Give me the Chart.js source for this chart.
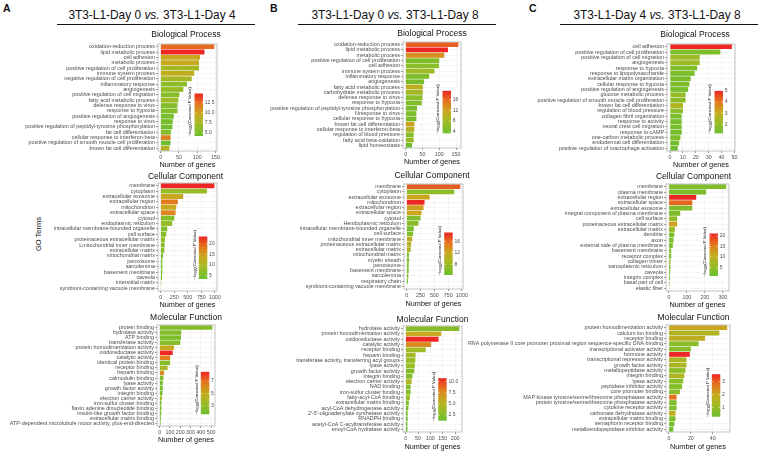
<!DOCTYPE html>
<html><head><meta charset="utf-8">
<script src="https://cdn.jsdelivr.net/npm/chart.js@4"></script>
<style>
body{margin:0;width:758px;height:453px;background:#fff;position:relative;overflow:hidden;font-family:'Liberation Sans',Arial,sans-serif;color:#111;}
canvas{position:absolute;}
.t{position:absolute;white-space:nowrap;}
.ul{position:absolute;height:1.4px;background:#111;top:24px;}
</style></head><body>
<div class="t" style="left:3px;top:2px;font-weight:bold;font-size:10.5px;line-height:12px">A</div>
<div class="t" style="left:270px;top:2px;font-weight:bold;font-size:10.5px;line-height:12px">B</div>
<div class="t" style="left:529px;top:2px;font-weight:bold;font-size:10.5px;line-height:12px">C</div>
<div class="t" style="left:52px;top:7px;width:200px;text-align:center;font-size:11.9px;line-height:16px">3T3-L1-Day 0 <i>vs.</i> 3T3-L1-Day 4</div>
<div class="t" style="left:295px;top:7px;width:200px;text-align:center;font-size:11.9px;line-height:16px">3T3-L1-Day 0 <i>vs.</i> 3T3-L1-Day 8</div>
<div class="t" style="left:557px;top:7px;width:200px;text-align:center;font-size:11.9px;line-height:16px">3T3-L1-Day 4 <i>vs.</i> 3T3-L1-Day 8</div>
<div class="ul" style="left:57px;width:198px"></div>
<div class="ul" style="left:298px;width:198px"></div>
<div class="ul" style="left:560px;width:198px"></div>
<div class="t" style="left:9px;top:229px;width:60px;text-align:center;font-size:7.5px;line-height:10px;transform:rotate(-90deg)">GO Terms</div>
<script>
// ---------------- DATA ----------------
// Panel A: Day 0 vs Day 4
const aBP_terms = ['oxidation-reduction process','lipid metabolic process','cell adhesion','metabolic process','positive regulation of cell proliferation','immune system process','negative regulation of cell proliferation','inflammatory response','angiogenesis','positive regulation of cell migration','fatty acid metabolic process','defense response to virus','response to hypoxia','positive regulation of angiogenesis','response to virus','positive regulation of peptidyl-tyrosine phosphorylation','fat cell differentiation','cellular response to interferon-beta','positive regulation of smooth muscle cell proliferation','brown fat cell differentiation'];
const aBP_genes = [147,120,108,105,105,92,85,72,62,51,48,46,46,36,33,32,28,27,27,24];
const aBP_logp  = [12.5,14.7,9.5,9.5,7.5,9,7.5,6,6.5,5.5,7,5.5,5.5,5,4.8,4.5,5.5,11.5,4.2,8.5];
const aBP_xticks = [0,50,100,150];
const aBP_cbticks = ['5.0','7.5','10.0','12.5'];

const aCC_terms = ['membrane','cytoplasm','extracellular exosome','extracellular region','mitochondrion','extracellular space','cytosol','endoplasmic reticulum','intracellular membrane-bounded organelle','cell surface','proteinaceous extracellular matrix','Lmitochondrial inner membrane','extracellular matrix','mitochondrial matrix','peroxisome','sarcolemma','basement membrane','caveola','interstitial matrix','symbiont-containing vacuole membrane'];
const aCC_genes = [990,855,415,317,287,275,250,213,122,104,80,73,67,43,30,30,30,25,12,6];
const aCC_logp  = [23.4,8,14,18,13.5,17,6,7.5,5.5,6,7,6,6.5,4.5,4.5,4,4.5,4,3.8,3.4];
const aCC_xticks = [0,250,500,750,1000];
const aCC_cbticks = ['5','10','15','20'];

const aMF_terms = ['protein binding','hydrolase activity','ATP binding','transferase activity','protein homodimerization activity','oxidoreductase activity','catalytic activity','identical protein binding','receptor binding','heparin binding','calmodulin binding','lyase activity','growth factor activity','integrin binding','electron carrier activity','iron-sulfur cluster binding','flavin adenine dinucleotide binding','insulin-like growth factor binding','extracellular matrix binding','ATP-dependent microtubule motor activity, plus-end-directed'];
const aMF_genes = [512,210,207,200,139,127,102,102,77,43,37,31,31,28,22,18,18,15,12,9];
const aMF_logp  = [2.5,2.5,2.3,2.5,5,8.5,6.5,2.5,3.8,6,2.2,2,2.2,2.2,3.5,2,2.5,1.9,1.8,1.64];
const aMF_xticks = [0,100,200,300,400,500];
const aMF_cbticks = ['3','5','7'];

// Panel B: Day 0 vs Day 8
const bBP_terms = ['oxidation-reduction process','lipid metabolic process','metabolic process','positive regulation of cell proliferation','cell adhesion','immune system process','inflammatory response','angiogenesis','fatty acid metabolic process','carbohydrate metabolic process','defense response to virus','response to hypoxia','positive regulation of peptidyl-tyrosine phosphorylation','Nresponse to virus','cellular response to hypoxia','brown fat cell differentiation','cellular response to interferon-beta','regulation of blood pressure','fatty acid beta-oxidation','lipid homeostasis'];
const bBP_genes = [157,126,115,100,99,86,70,55,51,51,50,48,34,32,32,26,26,24,24,19];
const bBP_logp  = [16.5,19.3,13.5,5,6,7.5,5,4.5,10.5,8,6,5,4.5,5,4.5,12,9.5,5.5,7,3.4];
const bBP_xticks = [0,50,100,150];
const bBP_cbticks = ['4','8','12','16'];

const bCC_terms = ['membrane','cytoplasm','extracellular exosome','mitochondrion','extracellular region','extracellular space','cytosol','Hendoplasmic reticulum','intracellular membrane-bounded organelle','cell surface','mitochondrial inner membrane','proteinaceous extracellular matrix','extracellular matrix','mitochondrial matrix','myelin sheath','peroxisome','basement membrane','sarcolemma','respiratory chain','symbiont-containing vacuole membrane'];
const bCC_genes = [970,860,415,323,305,268,250,213,128,116,98,79,73,43,43,37,37,30,24,6];
const bCC_logp  = [16.5,7,12,19,12.5,12,6,6.5,5.5,6,11,10,10,5.5,5.5,5,5.5,5,5,4.3];
const bCC_xticks = [0,250,500,750,1000];
const bCC_cbticks = ['8','12','16'];

const bMF_terms = ['hydrolase activity','protein homodimerization activity','oxidoreductase activity','catalytic activity','receptor binding','heparin binding','transferase activity, transferring acyl groups','lyase activity','growth factor activity','integrin binding','electron carrier activity','NAD binding','iron-sulfur cluster binding','fatty-acyl-CoA binding','extracellular matrix binding','acyl-CoA dehydrogenase activity',"2'-5'-oligoadenylate synthetase activity",'RNADPH binding','acetyl-CoA C-acyltransferase activity','enoyl-CoA hydratase activity'];
const bMF_genes = [217,144,133,103,81,40,39,37,35,27,24,20,20,17,13,11,8,8,7,7];
const bMF_logp  = [2.5,6,10.75,7.5,4,4,3.5,3.5,2.5,2.5,4.5,2.5,2.5,3.5,2,2.5,2,2,1.5,1.25];
const bMF_xticks = [0,50,100,150,200];
const bMF_cbticks = ['2.5','5.0','7.5','10.0'];

// Panel C: Day 4 vs Day 8
const cBP_terms = ['cell adhesion','positive regulation of cell proliferation','positive regulation of cell migration','angiogenesis','response to hypoxia','response to lipopolysaccharide','extracellular matrix organization','cellular response to hypoxia','positive regulation of angiogenesis','glucose metabolic process','positive regulation of smooth muscle cell proliferation','brown fat cell differentiation','regulation of blood pressure','collagen fibril organization','response to activity','neural crest cell migration','response to cAMP','one-carbon metabolic process','endodermal cell differentiation','positive regulation of macrophage activation'];
const cBP_genes = [48,39,23,23,21,19,16,15,14,12,12,10,10,9,9,9,9,8,7,6];
const cBP_logp  = [5.0,1.6,2.2,2.2,1.6,1.5,1.5,1.5,1.4,2.0,1.8,2.6,1.8,1.5,1.4,1.4,1.4,1.5,1.3,1.2];
const cBP_xticks = [0,10,20,30,40,50];
const cBP_cbticks = ['2','3','4','5'];

const cCC_terms = ['membrane','plasma membrane','extracellular region','extracellular space','extracellular exosome','integral component of plasma membrane','cell surface','proteinaceous extracellular matrix','extracellular matrix','dendrite','axon','external side of plasma membrane','basement membrane','receptor complex','collagen trimer','sarcoplasmic reticulum','caveola','integrin complex','basal part of cell','elastic fiber'];
const cCC_genes = [318,207,152,130,130,63,46,46,33,30,26,22,13,13,9,9,7,6,4,2];
const cCC_logp  = [3,2.5,21.2,17,3,2.5,5,12,5,2.5,2.5,2,4,2,4,2,2,1.5,0.9,3.5];
const cCC_xticks = [0,100,200,300];
const cCC_cbticks = ['5','10','15','20'];

const cMF_terms = ['protein homodimerization activity','calcium ion binding','receptor binding','RNA polymerase II core promoter proximal region sequence-specific DNA binding','transcriptional activator activity','hormone activity','transcriptional repressor activity','growth factor activity','metallopeptidase activity','integrin binding','lyase activity','peptidase inhibitor activity','core promoter binding','MAP kinase tyrosine/serine/threonine phosphatase activity','protein tyrosine/serine/threonine phosphatase activity','cytokine receptor activity','carbonate dehydratase activity','extracellular matrix binding','semaphorin receptor binding','metalloendopeptidase inhibitor activity'];
const cMF_genes = [53,46,33,27,20,19,16,16,15,14,13,12,10,7,7,7,6,6,5,4];
const cMF_logp  = [2.0,1.5,1.8,0.8,0.8,3.58,1.4,1.4,0.8,1.5,0.8,0.7,0.8,2.8,0.6,0.6,1.8,0.6,0.5,0.27];
const cMF_xticks = [0,20,40];
const cMF_cbticks = ['1','2','3'];

// ---------------- RENDERING ----------------
const F = "'Liberation Sans', Arial, sans-serif";
const STOPS = [[0,[108,190,46]],[0.25,[155,188,38]],[0.5,[198,170,30]],[0.75,[228,118,30]],[1,[238,38,36]]];
function rgbAt(t){
  t = Math.max(0, Math.min(1, t));
  for (let i=1;i<STOPS.length;i++){
    if (t <= STOPS[i][0]){
      const [t0,c0] = STOPS[i-1], [t1,c1] = STOPS[i];
      const f = (t-t0)/(t1-t0);
      const c = c0.map((v,k)=>Math.round(v+(c1[k]-v)*f));
      return `rgb(${c[0]},${c[1]},${c[2]})`;
    }
  }
  return 'rgb(238,38,36)';
}

function makeDeco(cfg, pmin, pmax, idx){
  return {
    id: 'deco'+idx,
    afterDraw(chart){
      const ctx = chart.ctx, a = chart.chartArea;
      ctx.save();
      // colorbar legend
      const W = 8.5, H = 42.5;
      const x0 = a.right - cfg.cb[0] - W, y0 = a.bottom - cfg.cb[1] - H;
      ctx.fillStyle = '#fff';
      const bx0 = x0 - 8, bx1 = Math.min(a.right, x0 + W + 11);
      ctx.fillRect(bx0, y0 - 3, bx1 - bx0, H + 6);
      const g = ctx.createLinearGradient(0, y0 + H, 0, y0);
      for (let i=0;i<=20;i++){ g.addColorStop(i/20, rgbAt(i/20)); }
      ctx.fillStyle = g; ctx.fillRect(x0, y0, W, H);
      ctx.font = `5px ${F}`; ctx.textAlign = 'left'; ctx.textBaseline = 'middle';
      cfg.cbticks.forEach(s => {
        const v = parseFloat(s);
        const y = y0 + H - (v - pmin) / (pmax - pmin) * H;
        ctx.strokeStyle = '#fff'; ctx.lineWidth = 0.5;
        ctx.beginPath(); ctx.moveTo(x0, y); ctx.lineTo(x0 + 1.7, y);
        ctx.moveTo(x0 + W - 1.7, y); ctx.lineTo(x0 + W, y); ctx.stroke();
        ctx.fillStyle = '#4d4d4d';
        ctx.fillText(s, x0 + W + 1.8, y);
      });
      // colorbar title
      ctx.save();
      ctx.translate(x0 - 4.3, y0 + H/2 - 3);
      ctx.rotate(-Math.PI/2);
      ctx.fillStyle = '#111';
      const f1 = `4.3px ${F}`, f2 = `3.1px ${F}`;
      const p1 = '\u2212log', p2 = '10', p3 = '(Corrected P Value)';
      ctx.font = f1; const w1 = ctx.measureText(p1).width, w3 = ctx.measureText(p3).width;
      ctx.font = f2; const w2 = ctx.measureText(p2).width;
      let x = -(w1 + w2 + w3) / 2;
      ctx.textAlign = 'left'; ctx.textBaseline = 'middle';
      ctx.font = f1; ctx.fillText(p1, x, 0); x += w1;
      ctx.font = f2; ctx.fillText(p2, x, 1.2); x += w2;
      ctx.font = f1; ctx.fillText(p3, x, 0);
      ctx.restore();
      // panel border
      ctx.strokeStyle = '#b3b3b3'; ctx.lineWidth = 0.8;
      ctx.strokeRect(a.left, a.top, a.right - a.left, a.bottom - a.top);
      // subplot title
      ctx.fillStyle = '#111'; ctx.font = `8.5px ${F}`;
      ctx.textAlign = 'center'; ctx.textBaseline = 'middle';
      ctx.fillText(cfg.title, (a.left + a.right)/2 + cfg.tdx, a.top - cfg.tgap);
      ctx.restore();
    }
  };
}

function makeChart(cfg, idx){
  const [L,R,T,B] = cfg.area;
  const ct = T - 20, ch = B + cfg.xH + 2 - ct, cw = R + 8 - cfg.cl;
  const cv = document.createElement('canvas');
  cv.width = cw; cv.height = ch;
  cv.style.left = cfg.cl + 'px'; cv.style.top = ct + 'px';
  document.body.appendChild(cv);
  const pmin = Math.min(...cfg.logp), pmax = Math.max(...cfg.logp);
  const maxV = Math.max(...cfg.genes);
  new Chart(cv, {
    type: 'bar',
    data: {
      labels: cfg.terms,
      datasets: [{
        data: cfg.genes,
        backgroundColor: cfg.logp.map(p => rgbAt((p - pmin) / (pmax - pmin))),
        barPercentage: 0.9, categoryPercentage: 1, borderWidth: 0
      }]
    },
    options: {
      indexAxis: 'y', responsive: false, animation: false, devicePixelRatio: 1,
      layout: { padding: { left: 0, right: cw + cfg.cl - R, top: T - ct, bottom: 2 } },
      plugins: { legend: { display: false }, tooltip: { enabled: false } },
      scales: {
        x: {
          type: 'linear', min: -0.05 * maxV, max: 1.05 * maxV,
          afterBuildTicks: s => { s.ticks = cfg.xticks.map(v => ({ value: v })); },
          afterFit: s => { s.height = cfg.xH; },
          ticks: { font: { size: 5.3, family: F }, color: '#4d4d4d', padding: 1, maxRotation: 0, autoSkip: false, callback: v => String(v) },
          grid: { color: '#ebebeb', lineWidth: 0.5, tickColor: '#333', tickLength: 2 },
          border: { display: false },
          title: { display: true, text: 'Number of genes', font: { size: 7.3, family: F }, color: '#111', padding: { top: 0, bottom: 0 } }
        },
        y: {
          afterFit: s => { s.width = L - cfg.cl; },
          ticks: { font: { size: 5.4, family: F, lineHeight: 1 }, color: '#4d4d4d', padding: 1, autoSkip: false },
          grid: { offset: false, color: '#ebebeb', lineWidth: 0.5, tickColor: '#333', tickLength: 2 },
          border: { display: false }
        }
      }
    },
    plugins: [makeDeco(cfg, pmin, pmax, idx)]
  });
}

const charts = [
  {terms:aBP_terms, genes:aBP_genes, logp:aBP_logp, xticks:aBP_xticks, cbticks:aBP_cbticks, title:'Biological Process', cl:0, area:[158,217,44,151], xH:18, tgap:9.7, tdx:-1.5, cb:[14,15]},
  {terms:aCC_terms, genes:aCC_genes, logp:aCC_logp, xticks:aCC_xticks, cbticks:aCC_cbticks, title:'Cellular Component', cl:0, area:[158,217,183,291], xH:18, tgap:6.3, tdx:-2, cb:[9.7,12]},
  {terms:aMF_terms, genes:aMF_genes, logp:aMF_logp, xticks:aMF_xticks, cbticks:aMF_cbticks, title:'Molecular Function', cl:0, area:[157,215,325,426], xH:18, tgap:7.7, tdx:0, cb:[5.7,11.7]},
  {terms:bBP_terms, genes:bBP_genes, logp:bBP_logp, xticks:bBP_xticks, cbticks:bBP_cbticks, title:'Biological Process', cl:255, area:[403,461,42,148], xH:18, tgap:8, tdx:0, cb:[10,14.7]},
  {terms:bCC_terms, genes:bCC_genes, logp:bCC_logp, xticks:bCC_xticks, cbticks:bCC_cbticks, title:'Cellular Component', cl:255, area:[404,463,184,289], xH:19, tgap:8, tdx:-1.5, cb:[10.3,14]},
  {terms:bMF_terms, genes:bMF_genes, logp:bMF_logp, xticks:bMF_xticks, cbticks:bMF_cbticks, title:'Molecular Function', cl:255, area:[403,462,326,432], xH:19, tgap:6.7, tdx:0, cb:[15.3,11.3]},
  {terms:cBP_terms, genes:cBP_genes, logp:cBP_logp, xticks:cBP_xticks, cbticks:cBP_cbticks, title:'Biological Process', cl:440, area:[667,735,44,151], xH:18, tgap:9.7, tdx:-6, cb:[12,17.7]},
  {terms:cCC_terms, genes:cCC_genes, logp:cCC_logp, xticks:cCC_xticks, cbticks:cCC_cbticks, title:'Cellular Component', cl:440, area:[666,729,184,291], xH:18, tgap:7.3, tdx:-4, cb:[11,15]},
  {terms:cMF_terms, genes:cMF_genes, logp:cMF_logp, xticks:cMF_xticks, cbticks:cMF_cbticks, title:'Molecular Function', cl:440, area:[666,730,325,432], xH:19, tgap:7.7, tdx:-4.5, cb:[9.7,15.3]}
];
charts.forEach((c, i) => makeChart(c, i));
</script>
</body></html>
